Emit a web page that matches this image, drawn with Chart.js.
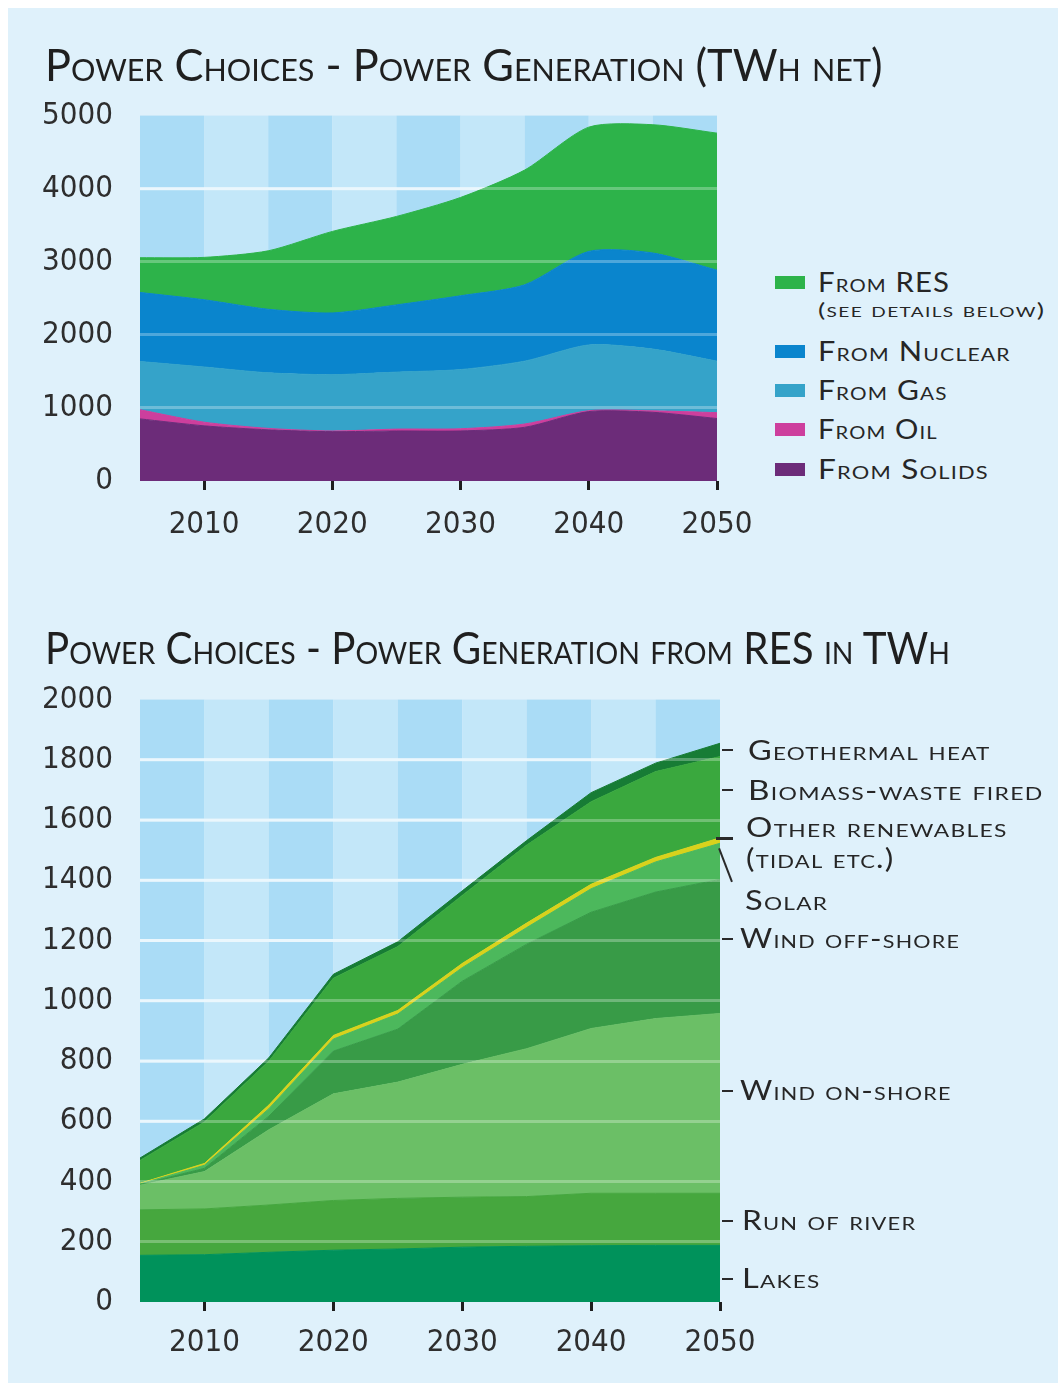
<!DOCTYPE html>
<html>
<head>
<meta charset="utf-8">
<title>Power Choices</title>
<script src="https://cdn.jsdelivr.net/npm/chart.js@4.4.1/dist/chart.umd.min.js"></script>
<style>
  html, body { margin: 0; padding: 0; background: #fff; }
  body { position: relative; width: 1058px; height: 1389px; overflow: hidden; font-family: Lato, "Open Sans", sans-serif; color: #262626; }
  #panel { position: absolute; left: 8px; top: 8px; width: 1050px; height: 1375px; background: #dff1fb; }
  canvas { position: absolute; left: 0; }
  .txt { position: absolute; white-space: nowrap; font-variant: small-caps; line-height: 1; transform-origin: 0 50%; transform: translateY(-50%); }
  .title { font-size: 44px; color: #1f1f1f; }
  .leg { font-size: 26px; letter-spacing: 1px; }
  .sub { font-size: 20px; letter-spacing: 1px; }
  .sw { position: absolute; left: 775px; width: 30px; height: 13px; }
  .dash { position: absolute; background: #2a2a2a; height: 2px; }
</style>
</head>
<body>
<div id="panel"></div>
<canvas id="gen" width="790" height="490" style="top:70px"></canvas>
<canvas id="res" width="790" height="731" style="top:654px"></canvas>
<div id="labels"></div>
<script>
const years = [2005, 2010, 2015, 2020, 2025, 2030, 2035, 2040, 2045, 2050];
const yearTicks = [2010, 2020, 2030, 2040, 2050];

// power generation, TWh net (stacked from the bottom)
const solids  = [850, 755, 700, 675, 685, 685, 735, 950, 940, 855];
const oil     = [125, 50, 20, 10, 25, 30, 45, 12, 20, 80];
const gas     = [660, 755, 760, 770, 780, 810, 860, 900, 845, 705];
const nuclear = [945, 920, 870, 845, 920, 1010, 1045, 1280, 1315, 1245];
const resTotal = [475, 580, 800, 1115, 1210, 1345, 1570, 1700, 1755, 1875];
const genTicks = [0, 1000, 2000, 3000, 4000, 5000];

// generation from RES, TWh
const lakes    = [155, 157, 165, 172, 176, 182, 185, 187, 188, 188];
const river    = [151, 152, 157, 165, 168, 166, 165, 174, 173, 173];
const onshore  = [82, 124, 250, 354, 386, 441, 491, 547, 580, 597];
const offshore = [2, 11, 45, 142, 176, 276, 347, 386, 420, 445];
const solar    = [2, 10, 25, 40, 50, 45, 55, 78, 100, 120];
const otherRes = [2, 6, 12, 12, 12, 14, 15, 15, 15, 18];
const biomass  = [76, 138, 146, 190, 212, 226, 259, 274, 285, 270];
const geo      = [8, 10, 11, 13, 16, 15, 15, 30, 28, 44];
const resTicks = [0, 200, 400, 600, 800, 1000, 1200, 1400, 1600, 1800, 2000];

const genSeries = [
  { name: 'From Solids', data: solids, color: '#6c2c79' },
  { name: 'From Oil', data: oil, color: '#cd3f9d' },
  { name: 'From Gas', data: gas, color: '#35a3c9' },
  { name: 'From Nuclear', data: nuclear, color: '#0a85cd' },
  { name: 'From RES', data: resTotal, color: '#2db34a' }
];
const resSeries = [
  { name: 'Lakes', data: lakes, color: '#00925b' },
  { name: 'Run of river', data: river, color: '#46a73e' },
  { name: 'Wind on-shore', data: onshore, color: '#6bbf66' },
  { name: 'Wind off-shore', data: offshore, color: '#389b47' },
  { name: 'Solar', data: solar, color: '#4cb85c' },
  { name: 'Other renewables', data: otherRes, color: '#d8d21c' },
  { name: 'Biomass-waste fired', data: biomass, color: '#3aa83e' },
  { name: 'Geothermal heat', data: geo, color: '#177c35' }
];

const tickFont = { family: '"Liberation Sans Narrow", "DejaVu Sans Condensed", "Open Sans", sans-serif', size: 31 };

// 5-year background stripes + pale grid under the areas
const bands = {
  id: 'bands',
  beforeDatasetsDraw(chart) {
    const { ctx, chartArea: a, scales: { x, y } } = chart;
    ctx.save();
    for (let i = 0; i < years.length - 1; i++) {
      const x0 = x.getPixelForValue(years[i]);
      const x1 = x.getPixelForValue(years[i + 1]);
      ctx.fillStyle = i % 2 ? '#c3e7f9' : '#aadcf6';
      ctx.fillRect(x0, a.top, x1 - x0, a.bottom - a.top);
    }
    ctx.strokeStyle = '#e3f4fc';
    ctx.lineWidth = 3;
    y.ticks.forEach(t => {
      if (t.value <= y.min || t.value >= y.max) return;
      const py = y.getPixelForValue(t.value);
      ctx.beginPath();
      ctx.moveTo(a.left, py);
      ctx.lineTo(a.right, py);
      ctx.stroke();
    });
    ctx.restore();
  }
};

function toDatasets(series, smooth) {
  return series.map((s, i) => ({
    label: s.name,
    data: years.map((yr, j) => ({ x: yr, y: s.data[j] })),
    backgroundColor: s.color,
    borderColor: s.color,
    borderWidth: 1,
    fill: i === 0 ? 'origin' : '-1',
    pointRadius: 0,
    tension: smooth ? 0.25 : 0
  }));
}

function makeChart(id, series, yTicks, smooth, pad, xAxisH, labelPad) {
  const top = yTicks[yTicks.length - 1];
  return new Chart(document.getElementById(id), {
    type: 'line',
    data: { datasets: toDatasets(series, smooth) },
    options: {
      responsive: false,
      animation: false,
      devicePixelRatio: 1,
      layout: { padding: pad },
      plugins: { legend: { display: false }, tooltip: { enabled: false } },
      scales: {
        x: {
          type: 'linear',
          min: years[0],
          max: years[years.length - 1],
          afterBuildTicks: s => { s.ticks = yearTicks.map(v => ({ value: v })); },
          afterFit: s => { s.height = xAxisH; },
          grid: { drawOnChartArea: false, drawTicks: true, tickLength: 9, tickWidth: 3, tickColor: '#1e1e1e' },
          border: { display: false },
          ticks: { color: '#2e2e2e', font: tickFont, padding: labelPad, maxRotation: 0, autoSkip: false, callback: v => String(v) }
        },
        y: {
          stacked: true,
          min: 0,
          max: top,
          afterBuildTicks: s => { s.ticks = yTicks.map(v => ({ value: v })); },
          afterFit: s => { s.width = 140; },
          grid: {
            z: 1,
            lineWidth: 3,
            drawTicks: false,
            color: c => (!c.tick || c.tick.value === 0 || c.tick.value === top) ? 'rgba(0,0,0,0)' : 'rgba(255,255,255,0.28)'
          },
          border: { display: false },
          ticks: { color: '#2e2e2e', font: tickFont, padding: 27, autoSkip: false, callback: v => String(v) }
        }
      }
    },
    plugins: [bands]
  });
}

makeChart('gen', genSeries, genTicks, true, { top: 25, right: 73, left: 0, bottom: 0 }, 79, 16);
makeChart('res', resSeries, resTicks, false, { top: 27, right: 70, left: 0, bottom: 0 }, 83, 13);

// text: [content, x, y centre, target width, class]
const texts = [
  ['Power Choices - Power Generation (TWh net)', 45, 64, 837, 'title'],
  ['Power Choices - Power Generation from RES in TWh', 45, 647, 905, 'title'],
  ['(see details below)', 818, 309, 227, 'sub'],
  ['Geothermal heat', 748, 750, 242, 'leg'],
  ['Biomass-waste fired', 748, 790, 295, 'leg'],
  ['Other renewables', 746, 827, 261, 'leg'],
  ['(tidal etc.)', 746, 858, 149, 'leg'],
  ['Solar', 745, 900, 83, 'leg'],
  ['Wind off-shore', 740, 938, 220, 'leg'],
  ['Wind on-shore', 740, 1090, 211, 'leg'],
  ['Run of river', 742, 1220, 174, 'leg'],
  ['Lakes', 742, 1278, 79, 'leg']
];
// legend of the top chart, top entry first
const legendRows = [
  ['From RES', 282, 132],
  ['From Nuclear', 351, 193],
  ['From Gas', 390, 130],
  ['From Oil', 429, 120],
  ['From Solids', 469, 171]
];
const holder = document.getElementById('labels');
legendRows.forEach(([name, y, w]) => {
  const s = genSeries.find(g => g.name === name);
  const sw = document.createElement('div');
  sw.className = 'sw';
  sw.style.top = (y - 6) + 'px';
  sw.style.background = s.color;
  holder.appendChild(sw);
  texts.push([name, 818, y, w, 'leg']);
});
const els = texts.map(([t, x, y, w, cls]) => {
  const d = document.createElement('div');
  d.className = 'txt ' + cls;
  d.textContent = t;
  d.style.left = x + 'px';
  d.style.top = y + 'px';
  d.dataset.w = w;
  holder.appendChild(d);
  return d;
});
function fit() {
  els.forEach(d => {
    const k = +d.dataset.w / d.offsetWidth;
    d.style.transform = `translateY(-50%) scaleX(${k})`;
  });
}
fit();
if (document.fonts) document.fonts.ready.then(fit);

// little leader marks to the right of the RES plot
const dashes = [[722, 749, 11, 2], [722, 789, 11, 2], [716, 837, 17, 3], [722, 938, 11, 2], [722, 1090, 11, 2], [722, 1220, 11, 2], [722, 1278, 11, 2]];
dashes.forEach(([x, y, w, h]) => {
  const d = document.createElement('div');
  d.className = 'dash';
  Object.assign(d.style, { left: x + 'px', top: y + 'px', width: w + 'px', height: h + 'px' });
  holder.appendChild(d);
});
const slash = document.createElement('div');
slash.className = 'dash';
Object.assign(slash.style, { left: '720px', top: '848px', width: '36px', height: '1.5px', transformOrigin: '0 0', transform: 'rotate(69deg)' });
holder.appendChild(slash);
</script>
</body>
</html>
